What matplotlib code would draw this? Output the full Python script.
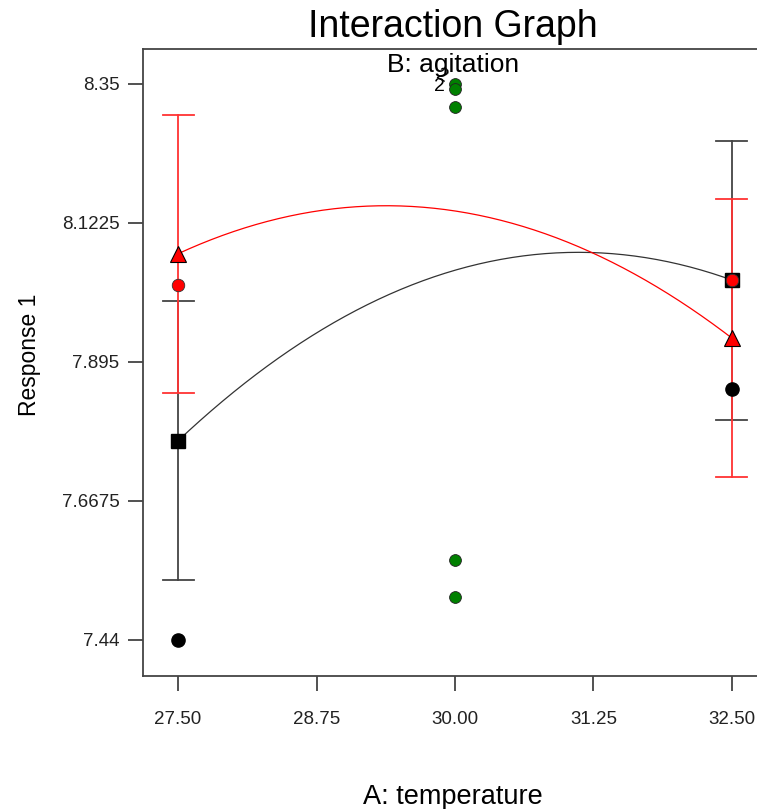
import numpy as np
import matplotlib.pyplot as plt

plt.rcParams['font.family'] = ['Liberation Sans', 'DejaVu Sans']

# factor levels
temp_levels = [27.5, 30.0, 32.5]
end_levels = [27.5, 32.5]

# predicted means at each temperature for the two agitation levels
pred_black = [7.766, 8.045, 8.029]
pred_red = [8.072, 8.142, 7.934]

# LSD bars at the end points
black_lo = [7.538, 7.800]
black_hi = [7.995, 8.257]
red_lo = [7.844, 7.707]
red_hi = [8.299, 8.162]

# design points
black_pts_x = [27.5, 32.5]
black_pts_y = [7.44, 7.851]
red_pts_x = [27.5, 32.5]
red_pts_y = [8.021, 8.029]
center_x = [30.0, 30.0, 30.0, 30.0, 30.0]
center_y = [8.350, 8.342, 8.312, 7.571, 7.510]

xticks = [27.50, 28.75, 30.00, 31.25, 32.50]
yticks = [7.44, 7.6675, 7.895, 8.1225, 8.35]
ytick_labels = ['7.44', '7.6675', '7.895', '8.1225', '8.35']

fig = plt.figure(figsize=(7.57, 8.09), dpi=100)
ax = fig.add_axes([0.189, 0.1644, 0.824, 0.775])

xs = np.linspace(27.5, 32.5, 200)
fb = np.polyfit(temp_levels, pred_black, 2)
fr = np.polyfit(temp_levels, pred_red, 2)
ax.plot(xs, np.polyval(fb, xs), color='#333333', lw=0.9, zorder=2)
ax.plot(xs, np.polyval(fr, xs), color='#ff0000', lw=0.9, zorder=2)

# error bars (black first, red on top)
for i, x in enumerate(end_levels):
    ax.plot([x, x], [black_lo[i], black_hi[i]], color='#444444', lw=1.3, zorder=3)
    ax.plot([x - 0.14, x + 0.14], [black_lo[i]] * 2, color='#444444', lw=1.3, zorder=3)
    ax.plot([x - 0.14, x + 0.14], [black_hi[i]] * 2, color='#444444', lw=1.3, zorder=3)
for i, x in enumerate(end_levels):
    ax.plot([x, x], [red_lo[i], red_hi[i]], color='#ff3333', lw=1.3, zorder=4)
    ax.plot([x - 0.14, x + 0.14], [red_lo[i]] * 2, color='#ff3333', lw=1.3, zorder=4)
    ax.plot([x - 0.14, x + 0.14], [red_hi[i]] * 2, color='#ff3333', lw=1.3, zorder=4)

# predicted end markers
ax.plot(end_levels, [pred_black[0], pred_black[2]], ls='none', marker='s',
        ms=10, color='black', zorder=5)
ax.plot(end_levels, [pred_red[0], pred_red[2]], ls='none', marker='^',
        ms=11, mfc='#ff0000', mec='black', mew=0.8, zorder=5)

# design points
ax.plot(black_pts_x, black_pts_y, ls='none', marker='o', ms=9.5,
        mfc='black', mec='black', zorder=6)
ax.plot(red_pts_x, red_pts_y, ls='none', marker='o', ms=9,
        mfc='#ff0000', mec='#333333', mew=0.6, zorder=6)
ax.plot(center_x, center_y, ls='none', marker='o', ms=8.5,
        mfc='#008000', mec='#222222', mew=0.6, zorder=6)
ax.text(29.88, 8.362, '2', fontsize=14, ha='center', va='center', rotation=-25)
ax.text(29.86, 8.346, '2', fontsize=14, ha='center', va='center')

ax.set_xlim(27.184, 32.816)
ax.set_ylim(7.381, 8.407)
ax.set_xticks(xticks)
ax.set_xticklabels(['%.2f' % t for t in xticks])
ax.set_yticks(yticks)
ax.set_yticklabels(ytick_labels)
ax.tick_params(direction='out', length=11, width=1.2, colors='#333333',
               labelsize=13.5, labelcolor='#222222')
ax.tick_params(axis='x', pad=14)
ax.tick_params(axis='y', pad=6)
for s in ax.spines.values():
    s.set_color('#444444')
    s.set_linewidth(1.3)

ax.set_xlabel('A: temperature', fontsize=19.5)
ax.xaxis.set_label_coords(0.497, -0.172)
ax.set_ylabel('Response 1', fontsize=16.5)
ax.yaxis.set_label_coords(-0.163, 0.513)
fig.text(0.598, 0.954, 'Interaction Graph', fontsize=27, ha='center', va='baseline')
fig.text(0.599, 0.911, 'B: agitation', fontsize=19, ha='center', va='baseline')

fig.savefig('out.png', dpi=100)
